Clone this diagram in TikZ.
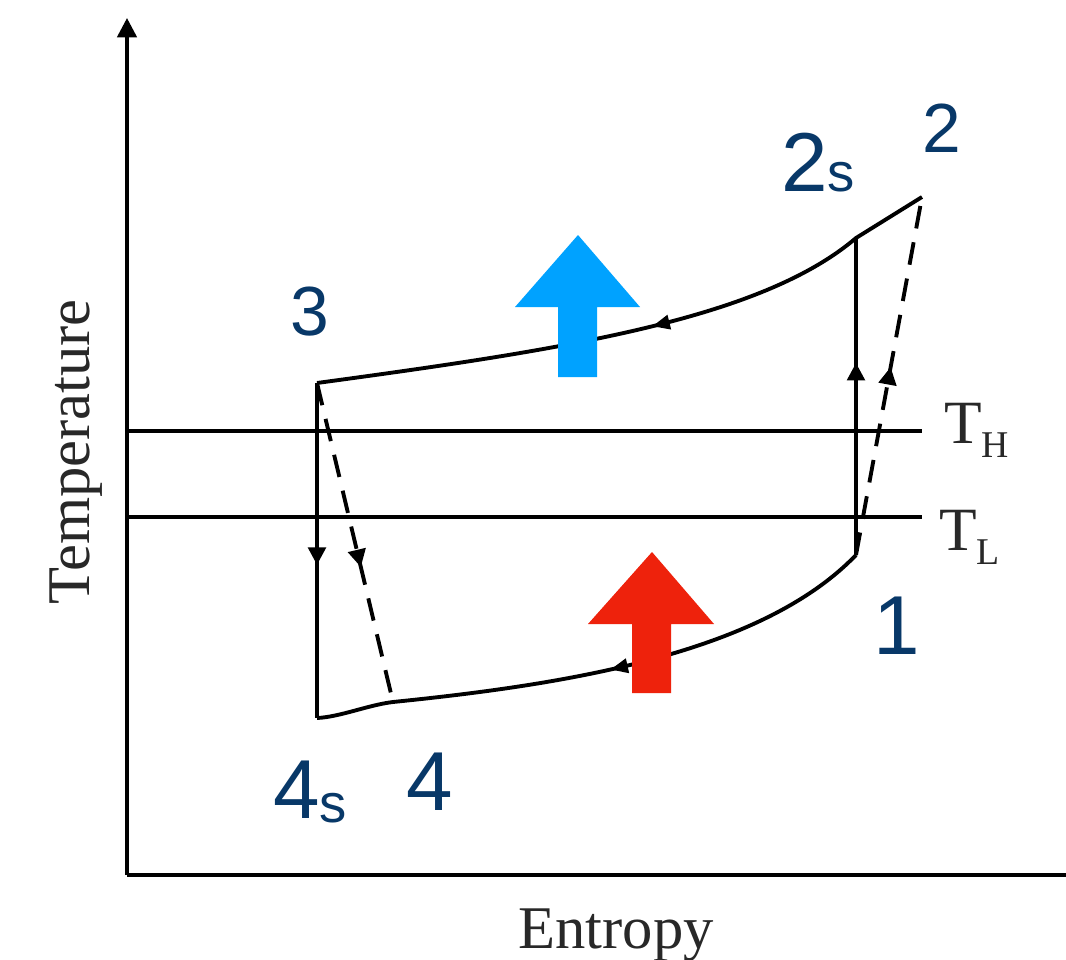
\documentclass[tikz,border=0pt]{standalone}
\usepackage{fontspec}
\setmainfont{Liberation Serif}
\newfontfamily\labfont{Liberation Sans}
\usetikzlibrary{arrows.meta,decorations.markings}
\definecolor{navy}{RGB}{8,56,104}
\definecolor{coolblue}{RGB}{0,162,255}
\definecolor{hotred}{RGB}{238,34,12}
\definecolor{inkgray}{RGB}{40,40,40}
\begin{document}
\begin{tikzpicture}[x=0.02cm,y=-0.02cm,
  axisline/.style={line width=2pt},
  levelline/.style={line width=1.8pt},
  cycleline/.style={line width=2.2pt},
  dashline/.style={line width=2.2pt, dash pattern=on 13pt off 8pt},
  midtip/.style={postaction={decorate},decoration={markings,mark=at position #1 with {\arrow[solid]{Triangle[length=10pt,width=10pt]}}}},
  curvetip/.style={postaction={decorate},decoration={markings,mark=at position #1 with {\arrow[solid]{Triangle[length=10pt,width=8pt]}}}},
  ptlabel/.style={inner sep=0pt, anchor=base, text=navy, font=\labfont},
  serlabel/.style={inner sep=0pt, text=inkgray}]
\fill[white] (0,0) rectangle (1066,960);
\useasboundingbox (0,0) rectangle (1066,960);

% coordinates
\coordinate (origin) at (127,875);
\coordinate (ytop) at (127,18);
\coordinate (xend) at (1066,875);
\coordinate (thl) at (127,431);
\coordinate (thr) at (922,431);
\coordinate (tll) at (127,517);
\coordinate (tlr) at (922,517);
\coordinate (p3) at (317,383);
\coordinate (p4s) at (317,718);
\coordinate (p4) at (393,702);
\coordinate (p1) at (856,555);
\coordinate (p2s) at (856,238);
\coordinate (p2) at (922,197);

% axes
\draw[axisline,-{Triangle[length=11pt,width=11pt]}] (origin) -- (ytop);
\draw[axisline] (origin) -- (xend);

% level lines
\draw[levelline] (thl) -- (thr);
\draw[levelline] (tll) -- (tlr);

% cycle
\draw[cycleline, curvetip=0.47] (p2) -- (p2s) .. controls (760,320) and (560,350) .. (p3);
\draw[cycleline, midtip=0.543] (p3) -- (p4s);
\draw[dashline, midtip=0.577] (p3) -- (p4);
\draw[cycleline, curvetip=0.48] (p1) .. controls (760,655) and (560,685) .. (p4) .. controls (368,705) and (340,717) .. (p4s);
\draw[cycleline, midtip=0.606] (p1) -- (p2s);
\draw[dashline, midtip=0.525] (p1) -- (p2);

% heat arrows
\fill[coolblue] (558,377) -- (558,307) -- (515,307) -- (578,235) -- (640,307) -- (597,307) -- (597,377) -- cycle;
\fill[hotred] (632,693) -- (632,624) -- (588,624) -- (652,552) -- (714,624) -- (671,624) -- (671,693) -- cycle;

% level labels
\node[serlabel, anchor=base west] (lth) at (944,443) {\fontsize{35}{35}\selectfont T\raisebox{-8.5pt}{\fontsize{21.5}{21.5}\selectfont H}};
\node[serlabel, anchor=base west] (ltl) at (939,550) {\fontsize{35}{35}\selectfont T\raisebox{-8.5pt}{\fontsize{21.5}{21.5}\selectfont L}};

% axis labels
\node[serlabel, rotate=90] (ylab) at (76,452) {\fontsize{34.5}{35}\selectfont Temperature};
\node[serlabel, anchor=base] (xlab) at (616,948) {\fontsize{34.5}{35}\selectfont Entropy};

% point labels
\node[ptlabel] (l3) at (310,335) {\fontsize{39.6}{40}\selectfont 3};
\node[ptlabel] (l2) at (942,152) {\fontsize{39.6}{40}\selectfont 2};
\node[ptlabel] (l2s) at (818,191) {\fontsize{47.6}{48}\selectfont 2{\fontsize{31}{31}\selectfont s}};
\node[ptlabel] (l1) at (897,654) {\fontsize{47.6}{48}\selectfont 1};
\node[ptlabel] (l4s) at (310,818) {\fontsize{47.6}{48}\selectfont 4\raisebox{-2.8pt}{\fontsize{31}{31}\selectfont s}};
\node[ptlabel] (l4) at (430,810) {\fontsize{47.6}{48}\selectfont 4};
\end{tikzpicture}
\end{document}
